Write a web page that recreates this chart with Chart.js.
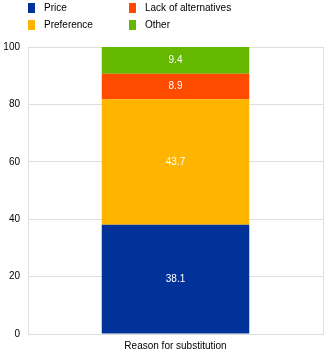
<!DOCTYPE html>
<html>
<head>
<meta charset="utf-8">
<script src="https://cdn.jsdelivr.net/npm/chart.js@4"></script>
<style>
  html, body { margin: 0; padding: 0; background: #fff; }
  #wrap { position: relative; width: 331px; height: 355px; }
  #legend { position: absolute; left: 28px; top: 1px; font: 10px "Liberation Sans", Arial, sans-serif; color: #000; }
  .item { position: absolute; white-space: nowrap; height: 14px; line-height: 14px; }
  .box { position: absolute; left: 0; top: 2px; width: 7px; height: 10px; }
  .item span { position: absolute; left: 16px; top: 0; }
</style>
</head>
<body>
<div id="wrap">
  <canvas id="chart" width="331" height="355"></canvas>
  <div id="legend"></div>
</div>
<script>
const categories = ['Reason for substitution'];
const seriesNames = ['Price', 'Preference', 'Lack of alternatives', 'Other'];
const priceValues = [38.1];
const preferenceValues = [43.7];
const lackValues = [8.9];
const otherValues = [9.4];
const yTicks = [0, 20, 40, 60, 80, 100];

const colors = ['#003299', '#ffb400', '#ff4b00', '#65b800'];
const seriesValues = [priceValues, preferenceValues, lackValues, otherValues];

// legend laid out in two columns: Price/Preference, Lack of alternatives/Other
const legendSpots = [[0, 0], [0, 17], [101, 0], [101, 17]];
const legendDiv = document.getElementById('legend');
seriesNames.forEach((name, i) => {
    const item = document.createElement('div');
    item.className = 'item';
    item.style.left = legendSpots[i][0] + 'px';
    item.style.top = legendSpots[i][1] + 'px';
    item.innerHTML = `<div class="box" style="background:${colors[i]}"></div><span>${name}</span>`;
    legendDiv.appendChild(item);
});

// white value labels in the middle of each segment
const valueLabels = {
    id: 'valueLabels',
    afterDatasetsDraw(chart) {
        const ctx = chart.ctx;
        ctx.save();
        ctx.fillStyle = '#fff';
        ctx.font = '10px "Liberation Sans", Arial, sans-serif';
        ctx.textAlign = 'center';
        ctx.textBaseline = 'middle';
        chart.data.datasets.forEach((ds, i) => {
            chart.getDatasetMeta(i).data.forEach((bar, j) => {
                const mid = (bar.y + bar.base) / 2;
                ctx.fillText(ds.data[j].toFixed(1), bar.x, mid);
            });
        });
        ctx.restore();
    }
};

new Chart(document.getElementById('chart'), {
    type: 'bar',
    data: {
        labels: categories,
        datasets: seriesNames.map((name, i) => ({
            label: name,
            data: seriesValues[i],
            backgroundColor: colors[i],
            borderWidth: 0,
            categoryPercentage: 1,
            barPercentage: 0.5
        }))
    },
    options: {
        responsive: false,
        animation: false,
        layout: { padding: { top: 47, right: 8, left: 0, bottom: 0 } },
        plugins: {
            legend: { display: false },
            tooltip: { enabled: false }
        },
        scales: {
            x: {
                stacked: true,
                grid: { color: '#dedede', drawTicks: false, offset: true },
                border: { color: '#dedede' },
                ticks: { color: '#000', padding: 6, font: { family: 'Liberation Sans', size: 10 } },
                afterFit: axis => { axis.height = 21; }
            },
            y: {
                stacked: true,
                min: 0,
                max: 100,
                afterBuildTicks: axis => { axis.ticks = yTicks.map(v => ({ value: v })); },
                grid: { color: '#dedede', drawTicks: false },
                border: { color: '#dedede' },
                ticks: { color: '#000', padding: 8, font: { family: 'Liberation Sans', size: 10 } },
                afterFit: axis => { axis.width = 28; }
            }
        }
    },
    plugins: [valueLabels]
});
</script>
</body>
</html>
